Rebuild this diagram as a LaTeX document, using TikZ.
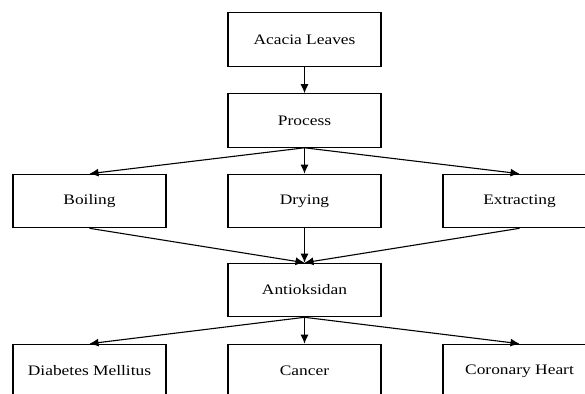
\documentclass[tikz,border=0pt]{standalone}
\usepackage{fontspec}
\setmainfont{Liberation Serif}
\usetikzlibrary{arrows.meta}
\tikzset{
  box/.style={draw, line width=1.1pt, minimum width=153pt, minimum height=53.5pt, inner sep=0pt,
    font=\fontsize{14.5}{16}\selectfont},
  arr/.style={-{Latex[length=9pt,width=8pt]}, line width=1.1pt},
}
\newcommand{\lbl}[1]{\scalebox{1.2}[1]{#1}}
\begin{document}
\begin{tikzpicture}[x=1pt,y=-1pt]
\useasboundingbox (0,0) rectangle (585,393);
\clip (0,0) rectangle (585,393);
\fill[white] (0,0) rectangle (585,393);
\node[box] (acacia) at (304.5,39.5) {\lbl{Acacia Leaves}};
\node[box] (process) at (304.5,120.5) {\lbl{Process}};
\node[box] (boiling) at (89.5,201) {\lbl{Boiling}};
\node[box] (drying) at (304.5,201) {\lbl{Drying}};
\node[box] (extracting) at (519.5,201) {\lbl{Extracting}};
\node[box] (antiox) at (304.5,290) {\lbl{Antioksidan}};
\node[box] (diabetes) at (89.5,371) {\lbl{Diabetes Mellitus}};
\node[box] (cancer) at (304.5,371) {\lbl{Cancer}};
\node[box] (coronary) at (519.5,371) {\lbl{Coronary Heart}};
\draw[arr] (acacia.south) -- (process.north);
\draw[arr] (process.south) -- (boiling.north);
\draw[arr] (process.south) -- (drying.north);
\draw[arr] (process.south) -- (extracting.north);
\draw[arr] (boiling.south) -- (antiox.north);
\draw[arr] (drying.south) -- (antiox.north);
\draw[arr] (extracting.south) -- (antiox.north);
\draw[arr] (antiox.south) -- (diabetes.north);
\draw[arr] (antiox.south) -- (cancer.north);
\draw[arr] (antiox.south) -- (coronary.north);
\end{tikzpicture}
\end{document}
